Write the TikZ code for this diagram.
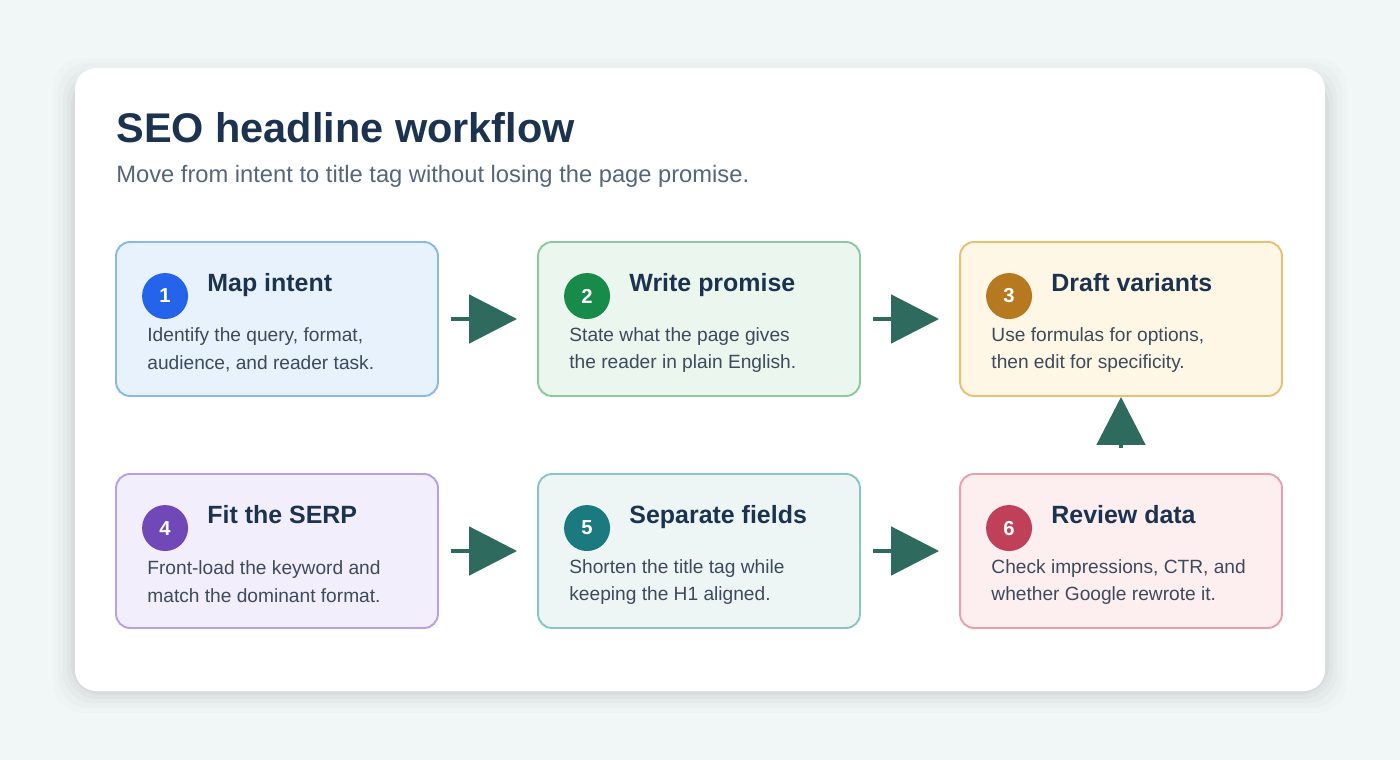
\documentclass[tikz,border=0pt]{standalone}
\usepackage{fontspec}
\setmainfont{Liberation Sans}
\usetikzlibrary{arrows.meta,calc}
\definecolor{bgc}{HTML}{F1F6F7}
\definecolor{ink}{HTML}{1C3350}
\definecolor{sub}{HTML}{55657A}
\definecolor{body}{HTML}{3D4A5C}
\definecolor{flowc}{HTML}{2E6B5E}
\definecolor{fA}{HTML}{E8F2FD}\definecolor{dA}{HTML}{8AB8E8}\definecolor{cA}{HTML}{2563EB}
\definecolor{fB}{HTML}{EBF6EE}\definecolor{dB}{HTML}{8CC9A0}\definecolor{cB}{HTML}{188A4A}
\definecolor{fC}{HTML}{FFF7E6}\definecolor{dC}{HTML}{E8C070}\definecolor{cC}{HTML}{B7791F}
\definecolor{fD}{HTML}{F3EEFC}\definecolor{dD}{HTML}{B9A0E6}\definecolor{cD}{HTML}{7048B8}
\definecolor{fE}{HTML}{EDF6F5}\definecolor{dE}{HTML}{88C6C3}\definecolor{cE}{HTML}{1A7A80}
\definecolor{fF}{HTML}{FDEEF0}\definecolor{dF}{HTML}{E8A0AD}\definecolor{cF}{HTML}{C0405A}
\tikzset{
  step/.style={draw=#1, line width=1.1pt, rounded corners=0.28cm,
    minimum width=6.44cm, minimum height=3.08cm, inner sep=0pt},
  badge/.style={circle, fill=#1, minimum size=0.92cm, inner sep=0pt,
    text=white, font=\fontsize{11.5}{12}\selectfont\bfseries},
  steptitle/.style={anchor=base west, text=ink, inner sep=0pt,
    font=\fontsize{14.2}{16}\selectfont\bfseries},
  stepbody/.style={anchor=west, text=body, align=left, inner sep=0pt,
    font=\fontsize{10.9}{15.9}\selectfont},
  flow/.style={draw=flowc, line width=2.8pt,
    -{Triangle[width=0.96cm,length=0.96cm]}}
}
\newcommand\stepbox[7]{% name, x, y, fill, colour, number, title
  \node[step=d#5, fill=f#5] (#1) at (#2,#3) {};
  \node[badge=c#5] (#1n) at ($(#1.north west)+(50,55)$) {#6};
  \node[steptitle] (#1t) at ($(#1.north west)+(92,50)$) {#7};
}
\begin{document}
\begin{tikzpicture}[x=0.02cm, y=-0.02cm]
  \useasboundingbox (0,0) rectangle (1400,760);
  \fill[bgc] (0,0) rectangle (1400,760);

  % card with soft shadow
  \foreach \s/\o in {22/0.012, 17/0.015, 12/0.02, 8/0.025, 4/0.03}
    \fill[black, opacity=\o, rounded corners=0.6cm] (75-\s,80-\s) rectangle (1325+\s,691+\s);
  \fill[white, rounded corners=0.42cm] (75,68) rectangle (1325,691);

  \node[anchor=base west, text=ink, inner sep=0pt, font=\fontsize{23.6}{28}\selectfont\bfseries]
    (title) at (116,143) {SEO headline workflow};
  \node[anchor=base west, text=sub, inner sep=0pt, font=\fontsize{13.5}{16}\selectfont]
    (subtitle) at (116,183) {Move from intent to title tag without losing the page promise.};

  % steps
  \stepbox{map}{277}{319}{A}{A}{1}{Map intent}
  \stepbox{write}{699}{319}{B}{B}{2}{Write promise}
  \stepbox{draft}{1121}{319}{C}{C}{3}{Draft variants}
  \stepbox{fit}{277}{551}{D}{D}{4}{Fit the SERP}
  \stepbox{split}{699}{551}{E}{E}{5}{Separate fields}
  \stepbox{review}{1121}{551}{F}{F}{6}{Review data}

  \node[stepbody] at ($(map.north west)+(32,109)$) {Identify the query, format,\\audience, and reader task.};
  \node[stepbody] at ($(write.north west)+(32,109)$) {State what the page gives\\the reader in plain English.};
  \node[stepbody] at ($(draft.north west)+(32,109)$) {Use formulas for options,\\then edit for specificity.};
  \node[stepbody] at ($(fit.north west)+(32,109)$) {Front-load the keyword and\\match the dominant format.};
  \node[stepbody] at ($(split.north west)+(32,109)$) {Shorten the title tag while\\keeping the H1 aligned.};
  \node[stepbody] at ($(review.north west)+(32,109)$) {Check impressions, CTR, and\\whether Google rewrote it.};

  % connectors
  \foreach \a/\b in {map/write, write/draft, fit/split, split/review}
    \draw[flow, shorten <=0.24cm, shorten >=0.4cm] (\a) -- (\b);
  \draw[flow, shorten <=0.5cm] (review) -- (draft);
\end{tikzpicture}
\end{document}
